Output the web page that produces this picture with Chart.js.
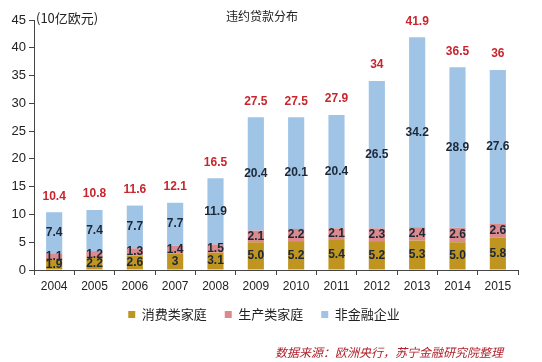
<!DOCTYPE html>
<html>
<head>
<meta charset="utf-8">
<script src="https://cdn.jsdelivr.net/npm/chart.js@4/dist/chart.umd.min.js"></script>
<style>
    body { margin: 0; background: #fff; }
    #wrap { width: 542px; height: 362px; }
</style>
</head>
<body>
<div id="wrap"><canvas id="chart" width="542" height="362"></canvas></div>
<script>
const years = ["2004", "2005", "2006", "2007", "2008", "2009", "2010", "2011", "2012", "2013", "2014", "2015"]
const consumer = [1.9, 2.2, 2.6, 3, 3.1, 5.0, 5.2, 5.4, 5.2, 5.3, 5.0, 5.8]
const consumer_text = ["1.9", "2.2", "2.6", "3", "3.1", "5.0", "5.2", "5.4", "5.2", "5.3", "5.0", "5.8"]
const producer = [1.1, 1.2, 1.3, 1.4, 1.5, 2.1, 2.2, 2.1, 2.3, 2.4, 2.6, 2.6]
const non_financial = [7.4, 7.4, 7.7, 7.7, 11.9, 20.4, 20.1, 20.4, 26.5, 34.2, 28.9, 27.6]
const totals = [10.4, 10.8, 11.6, 12.1, 16.5, 27.5, 27.5, 27.9, 34, 41.9, 36.5, 36]
const y_ticks = [0, 5, 10, 15, 20, 25, 30, 35, 40, 45]

const num_font = "'Liberation Sans', Arial, sans-serif"
const cjk_font = "'Noto Sans CJK SC', sans-serif"

// Draws the value labels, the title, the unit and the source note
const label_plugin = {
    id: "labels",
    afterDatasetsDraw(chart)
    {
        const ctx = chart.ctx
        ctx.save()
        ctx.textAlign = "center"
        ctx.textBaseline = "middle"
        ctx.font = "bold 12px " + num_font
        ctx.fillStyle = "#1c2838"
        const texts = [consumer_text, producer.map(String), non_financial.map(String)]
        chart.data.datasets.forEach((dataset, i) =>
        {
            chart.getDatasetMeta(i).data.forEach((bar, j) =>
            {
                const y_mid = (bar.y + bar.base) / 2
                ctx.fillText(texts[i][j], bar.x, y_mid)
            })
        })

        ctx.fillStyle = "#c8252d"
        const top_meta = chart.getDatasetMeta(2)
        top_meta.data.forEach((bar, j) =>
        {
            ctx.fillText(String(totals[j]), bar.x, bar.y - 16)
        })

        ctx.fillStyle = "#222"
        ctx.font = "12px " + cjk_font
        ctx.fillText("违约贷款分布", 262, 16)
        ctx.textAlign = "left"
        ctx.font = "13px " + cjk_font
        ctx.fillText("(10亿欧元)", 36, 18)

        ctx.fillStyle = "#b0202a"
        ctx.font = "italic 12px " + cjk_font
        ctx.fillText("数据来源：欧洲央行，苏宁金融研究院整理", 275, 352)
        ctx.restore()
    }
}

new Chart(document.getElementById("chart").getContext("2d"), {
    type: "bar",
    data: {
        labels: years,
        datasets: [
            {
                label: "消费类家庭",
                data: consumer,
                backgroundColor: "#bf951f",
            },
            {
                label: "生产类家庭",
                data: producer,
                backgroundColor: "#db8a8d",
            },
            {
                label: "非金融企业",
                data: non_financial,
                backgroundColor: "#9fc4e6",
            },
        ]
    },
    options: {
        responsive: false,
        animation: false,
        layout: {
            padding: { top: 20, right: 24, bottom: 31, left: 10 }
        },
        datasets: {
            bar: {
                categoryPercentage: 1.0,
                barPercentage: 0.4,
            }
        },
        scales: {
            x: {
                stacked: true,
                grid: {
                    drawOnChartArea: false,
                    tickLength: 5,
                    color: "#444",
                },
                border: { color: "#444" },
                ticks: {
                    color: "#222",
                    font: { family: num_font, size: 12 },
                    padding: 4,
                },
                afterFit(scale) { scale.height = 20 },
            },
            y: {
                stacked: true,
                min: 0,
                max: 45,
                grid: {
                    drawOnChartArea: false,
                    tickLength: 5,
                    color: "#444",
                },
                border: { color: "#444" },
                afterBuildTicks(scale) { scale.ticks = y_ticks.map(v => ({ value: v })) },
                ticks: {
                    color: "#222",
                    font: { family: num_font, size: 13 },
                    padding: 3,
                },
                afterFit(scale) { scale.width = 24 },
            }
        },
        plugins: {
            title: { display: false },
            tooltip: { enabled: false },
            legend: {
                position: "bottom",
                labels: {
                    boxWidth: 7,
                    boxHeight: 7,
                    padding: 18,
                    color: "#222",
                    font: { family: cjk_font, size: 13 },
                }
            }
        }
    },
    plugins: [label_plugin]
})
</script>
</body>
</html>
